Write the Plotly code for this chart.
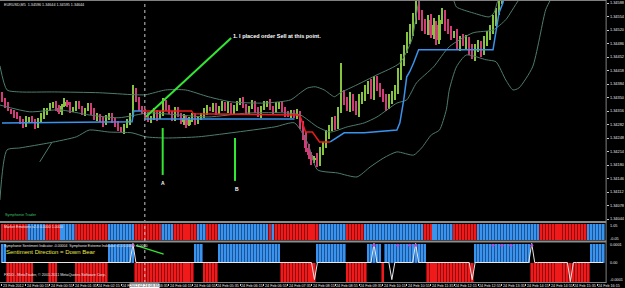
import plotly.graph_objects as go

# ---------------- data (prices in points above 1.34000) ----------------
BASE = 1.34
first_open = 357
closes = [
    344, 331, 319, 314, 306, 299, 289, 281, 294, 299,
    289, 278, 294, 304, 314, 319, 329, 334, 324, 314,
    329, 339, 331, 319, 324, 334, 324, 311, 319, 329,
    314, 299, 306, 294, 284, 299, 306, 294, 281, 273,
    268, 278, 289, 306, 369, 344, 324, 314, 306, 294,
    299, 314, 299, 309, 339, 324, 314, 299, 319, 306,
    289, 299, 281, 294, 304, 289, 299, 306, 314, 324,
    319, 329, 314, 324, 334, 319, 331, 314, 324, 339,
    344, 329, 314, 324, 334, 319, 306, 324, 334, 339,
    324, 314, 329, 334, 319, 309, 306, 314, 304, 309,
    281, 256, 223, 205, 193, 198, 188, 218, 231, 256,
    273, 294, 281, 319, 357, 344, 324, 349, 331, 314,
    344, 357, 369, 382, 357, 394, 374, 364, 349, 331,
    344, 357, 369, 407, 445, 470, 495, 520, 546, 583,
    558, 533, 520, 546, 508, 533, 495, 546, 558, 533,
    520, 508, 508, 483, 495, 490, 495, 470, 457, 475,
    483, 465, 490, 508, 520, 541, 566, 596, 610, 625,
    618, 640, 655, 648, 670, 690, 680, 700, 715, 705,
    690, 710, 730, 720, 700, 690, 675, 660, 670, 650,
    640, 655, 645, 630, 620, 635, 615, 600, 610, 625,
    605, 596, 644,
]
up_wick = [
    6, 4, 8, 3, 5, 7, 4, 6, 9, 3,
    5, 8, 4, 6, 10, 5, 7, 4, 8, 6,
    5, 9, 4, 7, 3, 6, 8, 5, 4, 7,
    6, 9, 5, 3, 7, 8, 4, 6, 5, 9,
    3, 6, 8, 5, 13, 5, 7, 4, 6, 8,
    5, 9, 4, 6, 10, 5, 7, 3, 8, 6,
    4, 9, 5, 7, 6, 8, 4, 5, 9, 6,
    3, 7, 8, 5, 6, 4, 10, 5, 7, 3,
    6, 8, 5, 4, 9, 6, 7, 5, 8, 3,
    6, 4, 9, 5, 7, 6, 8, 4, 5, 12,
    8, 10, 6, 9, 7, 5, 11, 8, 6, 12,
    9, 7, 10, 6, 80, 12, 8, 15, 10, 9,
    14, 8, 12, 10, 15, 9, 11, 13, 8, 10,
    14, 9, 12, 18, 15, 12, 20, 14, 16, 10,
    18, 12, 15, 11, 14, 16, 10, 13, 18, 12,
    15, 11, 9, 14, 10, 16, 12, 8, 15, 11,
    13, 9, 14, 10, 12, 16, 10, 12, 9, 14,
    11, 8, 15, 10, 12, 9, 13, 11, 8, 14,
    10, 12, 9, 15, 11, 10, 13, 8, 12, 10,
    9, 14, 11, 10, 12, 8, 9, 6, 8, 5,
    6, 4, 0,
]
low_wick = [
    5, 7, 3, 6, 8, 4, 6, 9, 5, 7,
    4, 8, 6, 5, 7, 9, 4, 6, 8, 5,
    7, 4, 6, 9, 5, 8, 3, 6, 7, 4,
    8, 5, 7, 6, 9, 4, 6, 8, 5, 7,
    6, 9, 5, 7, 4, 6, 8, 5, 7, 6,
    9, 5, 7, 4, 6, 8, 5, 7, 9, 6,
    5, 7, 9, 4, 6, 8, 5, 6, 7, 9,
    4, 6, 8, 5, 7, 4, 9, 6, 5, 8,
    7, 5, 9, 6, 4, 8, 6, 7, 5, 9,
    6, 8, 4, 7, 5, 9, 6, 8, 5, 7,
    10, 12, 9, 11, 14, 8, 13, 10, 12, 9,
    11, 8, 13, 10, 9, 12, 8, 10, 14, 9,
    12, 10, 15, 9, 11, 13, 8, 12, 10, 14,
    9, 11, 13, 10, 12, 15, 9, 11, 14, 10,
    12, 15, 10, 13, 9, 11, 14, 10, 12, 15,
    11, 13, 9, 12, 15, 10, 20, 12, 9, 14,
    10, 12, 9, 11, 13, 10, 12, 8, 10, 9,
    8, 10, 9, 12, 10, 8, 11, 9, 10, 12,
    9, 11, 8, 10, 12, 9, 11, 10, 8, 9,
    10, 8, 9, 11, 10, 9, 8, 3, 4, 3,
    4, 1, 1,
]

# Bollinger bands (bar index, points)
upper_bars = [-0.7, 1.7, 6, 17.7, 32.7, 44.3, 48.3, 55, 61.7, 69.3, 77, 88.3, 97, 100.3, 102.7,
              105.3, 108.3, 111.7, 113.7, 119.3, 126, 133.7, 137.7, 140.3, 146, 149.3, 151.7,
              152.7, 158.3, 163.7, 165.3, 166.7, 176, 203]
upper_vals = [430, 369, 364, 364, 362, 357, 357, 369, 369, 352, 339, 336, 344, 362, 374,
              377, 369, 352, 362, 382, 407, 437, 495, 596, 672, 621, 596,
              578, 563, 553, 563, 596, 747, 898]
mid_bars = [-0.7, 9.3, 19.3, 29.3, 39.3, 49.3, 59.3, 69.3, 82.7, 96, 100.3, 106, 110.3, 116,
            121.7, 126, 132.7, 136, 139.3, 145, 150.3, 158.3, 165, 169.3, 173.7, 186, 203]
mid_vals = [331, 314, 319, 306, 299, 311, 306, 301, 311, 311, 306, 276, 263, 276,
            286, 301, 336, 344, 387, 427, 478, 513, 520, 546, 596, 697, 823]
lower_bars = [-0.7, 1.7, 6, 16, 25, 29.3, 36, 43.7, 48.3, 55, 66, 77, 91.7, 98.3, 102.7, 106,
              112.7, 119.3, 123.7, 128.3, 132.7, 138.3, 141, 144.3, 147, 149.3, 150.3, 152.7,
              156, 162.7, 166, 169.3, 171.7, 173.7, 178.3, 182.7, 184.3, 192.7, 203]
lower_vals = [92, 218, 223, 236, 251, 268, 263, 261, 251, 248, 251, 261, 276, 286, 236, 168,
              160, 150, 175, 198, 213, 205, 223, 256, 268, 319, 369, 427,
              457, 445, 440, 394, 369, 374, 427, 571, 596, 722, 848]
trend_bars = [12.7, 16.7]
trend_vals = [188, 236]

# Symphonie trader line
blue1_bars = [0, 43.7, 44.3, 48]
blue1_vals = [286, 289, 316, 316]
blue2_bars = [48, 98.3]
blue2_vals = [296, 296]
red_bars = [47, 63.7, 64.3, 99.3, 100.3, 102, 104.3, 106.7, 110.3]
red_vals = [316, 316, 309, 306, 301, 263, 263, 238, 238]
blue3_bars = [110.3, 115, 121.7, 132.7, 133.7, 135, 136, 137, 138.3, 140, 165, 166, 167, 168.3, 170, 203]
blue3_vals = [238, 261, 261, 268, 286, 344, 402, 415, 437, 470, 470, 513, 563, 588, 640, 700]

# drawn objects
order_bars = [48.3, 77]
order_vals = [301, 500]
a_bars = [54, 54]
a_vals = [273, 155]
b_bars = [78.3, 78.3]
b_vals = [248, 140]
cross_bar = 48

# Market Emotions runs (state, count): 1 = blue, -1 = red
emotion_runs = [(-1, 9), (1, 6), (-1, 5), (1, 5), (-1, 11), (1, 9), (-1, 9), (1, 4), (-1, 8),
                (1, 3), (-1, 4), (1, 17), (-1, 1), (1, 1), (-1, 15), (1, 9), (-1, 6), (1, 20),
                (-1, 3), (1, 7), (-1, 8), (1, 21), (-1, 16), (1, 6)]
# Sentiment runs (state, count): 1 = up/blue, -1 = down/red, 0 = none
sentiment_runs = [(1, 2), (-1, 9), (0, 5), (-1, 3), (0, 6), (-1, 11), (1, 9), (-1, 20), (1, 3),
                  (-1, 5), (1, 21), (-1, 12), (1, 10), (-1, 7), (1, 5), (-1, 1), (1, 14),
                  (-1, 16), (1, 19), (-1, 20), (1, 5)]
extreme_bars = [44, 105, 125, 131, 139, 158, 178, 191]
extreme_vals = [0.0001, -0.00009, 0.0001, -0.00009, 0.0001, -0.00009, 0.0001, -0.0001]
dot_bars = [44, 125, 133, 137, 139, 165, 168, 171, 178]
dot_val = 0.00009
sent_line_bars = [45, 54.3]
sent_line_vals = [0.00009, 0.000044]

price_ticks = [1.34588, 1.34554, 1.34520, 1.34486, 1.34452, 1.34418, 1.34384, 1.34350, 1.34316,
               1.34282, 1.34248, 1.34214, 1.34180, 1.34146, 1.34112, 1.34078, 1.34044]
emo_max_label = "1.05"
emo_min_label = "-0.05"
sent_labels = ["0.0001", "0.00", "-0.0001"]

time_bars = [0, 8, 16, 24, 32, 40, 48, 56, 64, 72, 80, 88, 96, 104, 112, 120, 128, 136, 144,
             152, 160, 168, 176, 184, 192, 200]
time_labels = ["23 Feb 2012", "24 Feb 00:15", "24 Feb 00:55", "24 Feb 01:35", "24 Feb 02:15",
               "24 Feb 02:55", "24 Feb 03:35", "24 Feb 04:15", "24 Feb 04:55", "24 Feb 05:35",
               "24 Feb 06:15", "24 Feb 06:55", "24 Feb 07:35", "24 Feb 08:15", "24 Feb 08:55",
               "24 Feb 09:35", "24 Feb 10:15", "24 Feb 10:55", "24 Feb 11:35", "24 Feb 12:15",
               "24 Feb 12:55", "24 Feb 13:35", "24 Feb 14:15", "24 Feb 14:55", "24 Feb 15:35",
               "24 Feb 16:15"]
cross_label = "2012.02.24 03:35"
title_text = "EURUSD,M5  1.34596 1.34644 1.34595 1.34644"

assert len(closes) == len(up_wick) == len(low_wick) == 203

# ---------------- build ----------------
W, H = 625, 288
PX_R = 611
FONT = "Liberation Sans"

def P(v):
    return BASE + v / 100000.0

def py(px):  # pixel row -> paper y
    return 1 - px / H

n = len(closes)
xs = list(range(n))
opens = [first_open] + closes[:-1]
highs = [max(o, c) + u for o, c, u in zip(opens, closes, up_wick)]
lows = [min(o, c) - l for o, c, l in zip(opens, closes, low_wick)]

BULL = "#86C440"
BEAR = "#D13B78"
BAND = "#4E7D6C"
BLUE = "#3A93EC"
BLUE_D = "#1C5296"
RED = "#F01A1A"
RED_D = "#8E0A0E"
TXT = "#E6E6E6"

fig = go.Figure()

for bull, col in ((True, BULL), (False, BEAR)):
    idx = [i for i in xs if (closes[i] >= opens[i]) == bull]
    fig.add_trace(go.Bar(
        x=idx, base=[P(lows[i]) for i in idx],
        y=[(highs[i] - lows[i]) / 1e5 for i in idx],
        width=0.34, marker=dict(color=col, line=dict(width=0)), showlegend=False,
        hoverinfo="skip"))
    fig.add_trace(go.Bar(
        x=idx, base=[P(min(opens[i], closes[i])) for i in idx],
        y=[max(abs(closes[i] - opens[i]), 2.5) / 1e5 for i in idx],
        width=0.7, marker=dict(color=col, line=dict(width=0)), showlegend=False,
        hoverinfo="skip"))

for bx, bv in ((upper_bars, upper_vals), (mid_bars, mid_vals), (lower_bars, lower_vals)):
    fig.add_trace(go.Scatter(x=bx, y=[P(v) for v in bv], mode="lines",
                             line=dict(color=BAND, width=1, shape="spline", smoothing=0.6),
                             showlegend=False, hoverinfo="skip"))
fig.add_trace(go.Scatter(x=trend_bars, y=[P(v) for v in trend_vals], mode="lines",
                         line=dict(color=BAND, width=1), showlegend=False))

for bx, bv, col in ((blue2_bars, blue2_vals, BLUE), (blue1_bars, blue1_vals, BLUE),
                    (red_bars, red_vals, RED), (blue3_bars, blue3_vals, BLUE)):
    fig.add_trace(go.Scatter(x=bx, y=[P(v) for v in bv], mode="lines",
                             line=dict(color=col, width=1.5), showlegend=False,
                             hoverinfo="skip"))

# order line & A/B markers
for bx, bv in ((order_bars, order_vals), (a_bars, a_vals), (b_bars, b_vals)):
    fig.add_trace(go.Scatter(x=bx, y=[P(v) for v in bv], mode="lines",
                             line=dict(color="#33E633", width=2), showlegend=False))

# Market emotions panel (dark backing + bright histogram -> striped look)
emo_state = []
for s, c in emotion_runs:
    emo_state += [s] * c
for st, col, lc in ((1, BLUE, BLUE_D), (-1, RED, RED_D)):
    idx = [i for i in xs if emo_state[i] == st]
    fig.add_trace(go.Bar(x=idx, y=[1.0] * len(idx), width=1.0, yaxis="y2",
                         marker=dict(color=lc, line=dict(width=0)),
                         showlegend=False, hoverinfo="skip"))
    fig.add_trace(go.Bar(x=idx, y=[1.0] * len(idx), width=0.68, yaxis="y2",
                         marker=dict(color=col, line=dict(width=0)),
                         showlegend=False, hoverinfo="skip"))

# Sentiment panel
sent_state = []
for s, c in sentiment_runs:
    sent_state += [s] * c
for st, col, lc in ((1, BLUE, BLUE_D), (-1, RED, RED_D)):
    idx = [i for i in xs if sent_state[i] == st]
    fig.add_trace(go.Bar(x=idx, y=[st * 0.0001] * len(idx), width=1.0, yaxis="y3",
                         marker=dict(color=lc, line=dict(width=0)),
                         showlegend=False, hoverinfo="skip"))
    fig.add_trace(go.Bar(x=idx, y=[st * 0.0001] * len(idx), width=0.68, yaxis="y3",
                         marker=dict(color=col, line=dict(width=0)),
                         showlegend=False, hoverinfo="skip"))
extreme = [0.0] * n
for b, v in zip(extreme_bars, extreme_vals):
    extreme[b] = v
fig.add_trace(go.Scatter(x=xs, y=extreme, mode="lines", yaxis="y3",
                         line=dict(color="#E8E8E8", width=1), showlegend=False))
fig.add_trace(go.Scatter(x=dot_bars, y=[dot_val] * len(dot_bars), mode="markers", yaxis="y3",
                         marker=dict(color="#B04CE0", size=3), showlegend=False))
fig.add_trace(go.Scatter(x=sent_line_bars, y=sent_line_vals, mode="lines", yaxis="y3",
                         line=dict(color="#33E633", width=1.5), showlegend=False))

shapes = [
    dict(type="line", xref="x", yref="paper", x0=cross_bar, x1=cross_bar, y0=py(283), y1=1,
         line=dict(color="#C8C8C8", width=1, dash="dot")),
    dict(type="line", xref="paper", yref="paper", x0=0, x1=PX_R / W, y0=py(0.5), y1=py(0.5),
         line=dict(color="#808080", width=1)),
    dict(type="line", xref="paper", yref="paper", x0=0, x1=PX_R / W, y0=py(222), y1=py(222),
         line=dict(color="#8C8C8C", width=2)),
    dict(type="line", xref="paper", yref="paper", x0=0, x1=PX_R / W, y0=py(241.5), y1=py(241.5),
         line=dict(color="#8C8C8C", width=2)),
    dict(type="line", xref="paper", yref="paper", x0=0, x1=PX_R / W, y0=py(282.5), y1=py(282.5),
         line=dict(color="#808080", width=1)),
    dict(type="line", xref="paper", yref="paper", x0=PX_R / W, x1=PX_R / W, y0=py(283), y1=1,
         line=dict(color="#808080", width=1)),
]

def tiny(size, color=TXT):
    return dict(family=FONT, size=size, color=color)

ann = [
    dict(xref="paper", yref="paper", x=2 / W, y=py(4.5), text=title_text, showarrow=False,
         xanchor="left", yanchor="middle", font=tiny(3.7)),
    dict(xref="x", yref="y", x=order_bars[1], y=P(order_vals[1]) + 0.00004,
         text="<b>1. I placed order Sell at this point.</b>", showarrow=False,
         xanchor="left", yanchor="middle", font=tiny(5.5, "white")),
    dict(xref="x", yref="y", x=a_bars[0], y=P(a_vals[1]) - 0.0002, text="<b>A</b>",
         showarrow=False, font=tiny(5, "white")),
    dict(xref="x", yref="y", x=b_bars[0] + 0.6, y=P(b_vals[1]) - 0.0002, text="<b>B</b>",
         showarrow=False, font=tiny(5, "white")),
    dict(xref="paper", yref="paper", x=3 / W, y=py(215), text="Symphonie Trader",
         showarrow=False, xanchor="left", yanchor="middle", font=tiny(3.8, "#3CC36A")),
    dict(xref="paper", yref="paper", x=2 / W, y=py(226.5), text="Market Emotions v2.0 0.0000 1.0000",
         showarrow=False, xanchor="left", yanchor="middle", font=tiny(3.6)),
    dict(xref="paper", yref="paper", x=2 / W, y=py(245.5),
         text="Symphonie Sentiment Indicator -0.00004  Symphonie Extreme Indicator v1.0 0.0000 -1.0000",
         showarrow=False, xanchor="left", yanchor="middle", font=tiny(3.5)),
    dict(xref="paper", yref="paper", x=4 / W, y=py(252), text="Sentiment Direction = Down Bear",
         showarrow=False, xanchor="left", yanchor="middle", font=tiny(6, "#E8E84A")),
    dict(xref="paper", yref="paper", x=2 / W, y=py(274.5),
         text="FXDD - MetaTrader, © 2001-2011 MetaQuotes Software Corp.",
         showarrow=False, xanchor="left", yanchor="middle", font=tiny(3.7)),
    # indicator window scale labels (MT4 draws window max/min at the edges)
    dict(xref="paper", yref="paper", x=613 / W, y=py(225.5), text=emo_max_label,
         showarrow=False, xanchor="left", yanchor="middle", font=tiny(3.8)),
    dict(xref="paper", yref="paper", x=613 / W, y=py(238.5), text=emo_min_label,
         showarrow=False, xanchor="left", yanchor="middle", font=tiny(3.8)),
    dict(xref="paper", yref="paper", x=613 / W, y=py(244.8), text=sent_labels[0],
         showarrow=False, xanchor="left", yanchor="middle", font=tiny(3.8)),
    dict(xref="paper", yref="paper", x=613 / W, y=py(262.5), text=sent_labels[1],
         showarrow=False, xanchor="left", yanchor="middle", font=tiny(3.8)),
    dict(xref="paper", yref="paper", x=613 / W, y=py(280), text=sent_labels[2],
         showarrow=False, xanchor="left", yanchor="middle", font=tiny(3.8)),
]
for b, t in zip(time_bars, time_labels):
    ann.append(dict(xref="x", yref="paper", x=b - 0.3, y=py(285.5), text=t, showarrow=False,
                    xanchor="left", yanchor="middle", font=tiny(3.7)))
ann.append(dict(xref="x", yref="paper", x=cross_bar, y=py(285.5), text=cross_label,
                showarrow=False, xanchor="center", yanchor="middle", bgcolor="white",
                borderpad=0, font=tiny(3.7, "black")))

fig.update_layout(
    width=W, height=H, margin=dict(l=0, r=0, t=0, b=0),
    paper_bgcolor="black", plot_bgcolor="black", barmode="overlay", bargap=0,
    showlegend=False, shapes=shapes, annotations=ann,
    xaxis=dict(domain=[0, PX_R / W], range=[-0.667, 203], anchor="y3", showgrid=False,
               zeroline=False, showticklabels=False, tickvals=time_bars, ticks="outside",
               ticklen=2, tickcolor="#C8C8C8", showline=False),
    yaxis=dict(domain=[py(222), 1], range=[1.3403645, 1.3459556], side="right", anchor="x",
               tickvals=price_ticks, ticktext=[f"{p:.5f}" for p in price_ticks],
               tickfont=tiny(3.9), ticks="outside",
               ticklen=2, tickcolor="#C8C8C8", showgrid=False, zeroline=False),
    yaxis2=dict(domain=[py(241), py(223)], range=[-0.05, 1.05], side="right", anchor="x",
                showticklabels=False, ticks="", showgrid=False, zeroline=False),
    yaxis3=dict(domain=[py(282.5), py(242.5)], range=[-0.000105, 0.000105], side="right",
                anchor="x", showticklabels=False, ticks="", showgrid=False, zeroline=False),
)

fig.write_html("out.html")
